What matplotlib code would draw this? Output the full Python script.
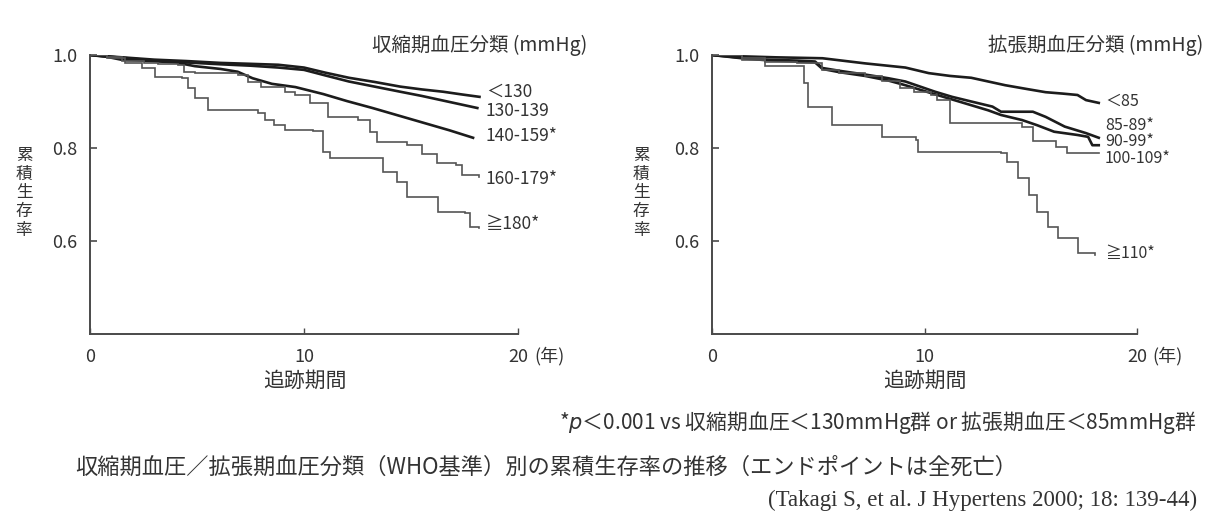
import numpy as np
import matplotlib
matplotlib.use('Agg')
import matplotlib.pyplot as plt

plt.rcParams['font.family'] = ['Noto Sans CJK JP', 'DejaVu Sans']

# 収縮期血圧分類 (years, cumulative survival)
sbp_labels = ['＜130', '130-139', '140-159*', '160-179*', '≧180*']
sbp_t = [
    [0, 1.5, 3.0, 4.5, 6.1, 7.5, 8.8, 10.0, 11.0, 12.1, 13.3, 14.5, 15.5, 16.5, 17.4, 18.2],
    [0, 1.5, 3.0, 4.5, 6.1, 7.5, 8.8, 10.0, 11.0, 12.1, 13.3, 14.5, 15.5, 16.4, 17.3, 18.1],
    [0, 0.8, 1.45, 2.5, 4.0, 4.9, 6.1, 6.9, 7.6, 8.5, 9.6, 10.9, 12.0, 13.2, 14.4, 15.6, 16.8, 17.9],
    [0, 0.8, 1.5, 2.5, 3.2, 4.1, 4.4, 4.9, 6.9, 7.4, 8.0, 9.1, 9.6, 10.3, 11.1, 12.5, 13.1, 13.4,
     14.8, 15.5, 16.2, 17.1, 17.4, 18.2],
    [0, 0.8, 1.64, 2.43, 3.04, 4.3, 4.58, 4.9, 5.5, 7.85, 8.18, 8.6, 9.1, 10.4, 10.9, 11.2, 13.4,
     13.7, 14.35, 14.8, 16.1, 16.25, 17.5, 17.75, 18.2],
]
sbp_s = [
    [1.0, 0.995, 0.990, 0.987, 0.983, 0.981, 0.979, 0.973, 0.962, 0.951, 0.942, 0.932, 0.926, 0.921, 0.915, 0.910],
    [1.0, 0.994, 0.988, 0.984, 0.980, 0.977, 0.973, 0.968, 0.956, 0.943, 0.932, 0.921, 0.912, 0.903, 0.894, 0.886],
    [1.0, 0.996, 0.990, 0.988, 0.984, 0.976, 0.970, 0.964, 0.950, 0.938, 0.931, 0.916, 0.901, 0.886, 0.870,
     0.854, 0.838, 0.822],
    [1.0, 0.995, 0.987, 0.982, 0.980, 0.978, 0.964, 0.961, 0.957, 0.943, 0.932, 0.921, 0.914, 0.897, 0.867,
     0.860, 0.834, 0.813, 0.806, 0.787, 0.768, 0.763, 0.742, 0.738],
    [1.0, 0.994, 0.983, 0.972, 0.953, 0.951, 0.929, 0.908, 0.882, 0.875, 0.860, 0.850, 0.839, 0.837, 0.791,
     0.778, 0.778, 0.748, 0.727, 0.695, 0.695, 0.662, 0.660, 0.630, 0.628],
]

# 拡張期血圧分類
dbp_labels = ['＜85', '85-89*', '90-99*', '100-109*', '≧110*']
dbp_t = [
    [0, 1.5, 3.0, 5.2, 7.2, 9.1, 10.2, 11.2, 12.2, 13.0, 13.8, 14.8, 15.7, 16.5, 17.2, 17.6, 18.2],
    [0, 1.4, 2.5, 4.0, 4.85, 5.2, 6.0, 7.2, 8.3, 9.1, 10.5, 11.3, 12.2, 13.2, 13.6, 15.1, 15.7, 16.6, 17.6, 18.2],
    [0, 1.4, 2.5, 4.0, 4.85, 5.2, 6.0, 7.2, 8.3, 9.1, 10.6, 11.4, 12.2, 13.0, 13.6, 14.6, 15.3, 16.1, 17.2,
     17.7, 17.9, 18.2],
    [0, 1.4, 2.5, 4.0, 4.85, 5.2, 6.0, 7.2, 8.0, 8.85, 9.5, 10.3, 10.6, 11.2, 13.6, 14.6, 15.1, 16.2, 16.7, 18.2],
    [0, 1.4, 2.5, 4.2, 4.35, 4.5, 5.3, 5.65, 8.0, 9.6, 9.7, 13.6, 13.9, 14.4, 14.9, 15.3, 15.8, 16.3, 17.2, 18.0],
]
dbp_s = [
    [1.0, 0.997, 0.995, 0.993, 0.982, 0.973, 0.961, 0.955, 0.951, 0.943, 0.935, 0.927, 0.920, 0.917, 0.914,
     0.903, 0.897],
    [1.0, 0.994, 0.990, 0.988, 0.986, 0.972, 0.966, 0.958, 0.950, 0.943, 0.921, 0.910, 0.900, 0.889, 0.878,
     0.878, 0.867, 0.846, 0.832, 0.822],
    [1.0, 0.993, 0.989, 0.986, 0.984, 0.970, 0.963, 0.955, 0.945, 0.935, 0.914, 0.903, 0.892, 0.881, 0.871,
     0.860, 0.849, 0.835, 0.828, 0.824, 0.806, 0.806],
    [1.0, 0.993, 0.985, 0.983, 0.982, 0.968, 0.962, 0.955, 0.945, 0.928, 0.920, 0.914, 0.903, 0.854, 0.854,
     0.846, 0.814, 0.803, 0.789, 0.789],
    [1.0, 0.989, 0.976, 0.976, 0.940, 0.888, 0.888, 0.849, 0.824, 0.817, 0.791, 0.789, 0.770, 0.735, 0.699,
     0.662, 0.630, 0.606, 0.574, 0.570],
]

# label heights (survival units) next to line ends
sbp_label_y = [0.920, 0.880, 0.826, 0.733, 0.637]
dbp_label_y = [0.901, 0.849, 0.813, 0.777, 0.573]

yticks = [0.6, 0.8, 1.0]
ytick_labels = ['0.6', '0.8', '1.0']
xticks = [0, 10, 20]
xtick_labels = ['0', '10', '20']

W, H = 1218, 529
thick = dict(color='#1c1c1c', lw=1.9)
thin = dict(color='#555555', lw=1.2)
styles = [thick, thick, thick, thin, thin]
txt = '#333333'


def P(x, y):
    return x / W, 1 - y / H


fig = plt.figure(figsize=(W / 100, H / 100), dpi=100)
fig.patch.set_facecolor('white')

axL = fig.add_axes([90 / W, 1 - 334 / H, 428 / W, 279 / H])
axR = fig.add_axes([712 / W, 1 - 334 / H, 425 / W, 279 / H])

for ax, ts, ss, labs, ly, lfs in [(axL, sbp_t, sbp_s, sbp_labels, sbp_label_y, 12.5),
                                   (axR, dbp_t, dbp_s, dbp_labels, dbp_label_y, 11.5)]:
    for t, s, st in zip(ts, ss, styles):
        if st is thick:
            # dense groups: small steps merge into a sloping line
            ax.plot(t, s, solid_joinstyle='round', **st)
        else:
            ax.step(t, s, where='post', solid_joinstyle='miter', **st)
    for lab, yv in zip(labs, ly):
        ax.text(18.5, yv, lab, fontsize=lfs, color=txt, ha='left', va='center', clip_on=False)
    ax.set_xlim(0, 20)
    ax.set_ylim(0.4, 1.0)
    for sp in ['top', 'right']:
        ax.spines[sp].set_visible(False)
    for sp in ['left', 'bottom']:
        ax.spines[sp].set_color('#4a4a4a')
        ax.spines[sp].set_linewidth(1.4)
    ax.set_yticks(yticks)
    ax.set_yticklabels(ytick_labels)
    ax.set_xticks(xticks)
    ax.set_xticklabels(xtick_labels)
    ax.tick_params(axis='y', direction='in', length=5, width=1.2, color='#4a4a4a',
                   labelsize=13, labelcolor=txt, pad=9)
    ax.tick_params(axis='x', direction='in', length=4, width=1.0, color='#4a4a4a',
                   labelsize=13, labelcolor=txt, pad=10)
    ax.patch.set_alpha(0)

# panel titles
fig.text(*P(587, 45), '収縮期血圧分類 (mmHg)', fontsize=14, color=txt, ha='right', va='center')
fig.text(*P(1203, 45), '拡張期血圧分類 (mmHg)', fontsize=14, color=txt, ha='right', va='center')

# y labels (vertical stacked)
ylab = '\n'.join('累積生存率')
fig.text(*P(24, 193), ylab, fontsize=12, color=txt, ha='center', va='center', linespacing=1.15)
fig.text(*P(641, 193), ylab, fontsize=12, color=txt, ha='center', va='center', linespacing=1.15)

# x labels
fig.text(*P(305, 381), '追跡期間', fontsize=15, color=txt, ha='center', va='center')
fig.text(*P(925, 381), '追跡期間', fontsize=15, color=txt, ha='center', va='center')
fig.text(*P(534, 356), '(年)', fontsize=13, color=txt, ha='left', va='center')
fig.text(*P(1152, 356), '(年)', fontsize=13, color=txt, ha='left', va='center')

# footnote, caption, citation
fig.text(*P(1197, 422), '*$p$＜0.001 vs 収縮期血圧＜130mmHg群 or 拡張期血圧＜85mmHg群',
         fontsize=15, color=txt, ha='right', va='center')
fig.text(*P(75, 467), '収縮期血圧／拡張期血圧分類（WHO基準）別の累積生存率の推移（エンドポイントは全死亡）',
         fontsize=16, color=txt, ha='left', va='center')
fig.text(*P(1197, 500), '(Takagi S, et al. J Hypertens 2000; 18: 139-44)',
         fontsize=16.5, color=txt, ha='right', va='center', family=['Liberation Serif', 'DejaVu Serif'])

fig.savefig('out.png', dpi=100, facecolor='white')
